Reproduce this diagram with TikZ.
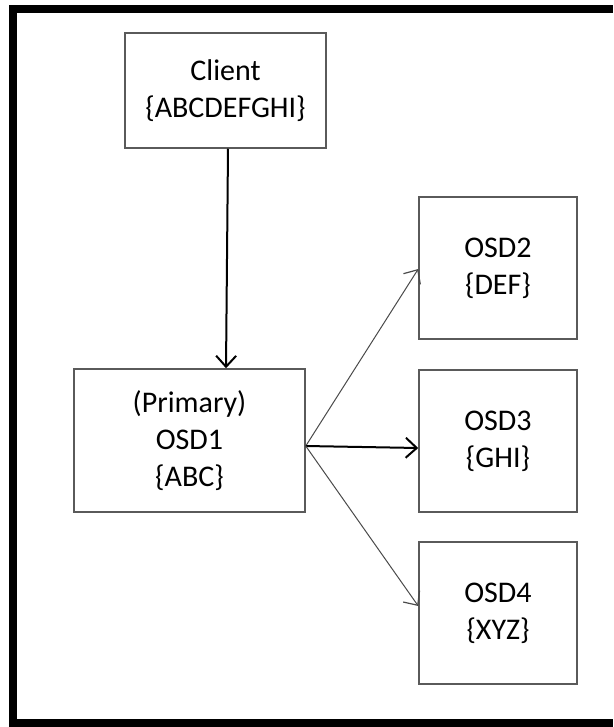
\documentclass[tikz,border=0pt]{standalone}
\usepackage{fontspec}
\setmainfont{Carlito}
\usetikzlibrary{arrows.meta}
\begin{document}
\begin{tikzpicture}[x=1pt,y=-1pt,
  box/.style={draw=boxgray, line width=1.5pt, fill=white, align=center,
    inner sep=0pt, font=\fontsize{30}{36.7}\selectfont},
  mainflow/.style={line width=2pt, draw=black,
    -{Straight Barb[length=11pt,width=20pt,line width=2pt]}},
  sideflow/.style={line width=1pt, draw=linegray,
    -{Straight Barb[length=11pt,width=20pt,line width=1.2pt]}}]
\definecolor{boxgray}{HTML}{5A5A5A}
\definecolor{linegray}{HTML}{4A4A4A}
\useasboundingbox (0,0) rectangle (613,727);
% heavy frame on the left, top and bottom
\fill[black] (9,5) rectangle (17,727);
\fill[black] (9,5) rectangle (613,13);
\fill[black] (9,719) rectangle (613,727);
% nodes
\node[box, minimum width=201pt, minimum height=115pt] (client) at (225.5,90.5) {Client\\\{ABCDEFGHI\}};
\node[box, minimum width=231pt, minimum height=143pt] (osd1) at (189.5,440.5) {(Primary)\\OSD1\\\{ABC\}};
\node[box, minimum width=158pt, minimum height=142pt] (osd2) at (498,268) {OSD2\\\{DEF\}};
\node[box, minimum width=158pt, minimum height=142pt] (osd3) at (498,441) {OSD3\\\{GHI\}};
\node[box, minimum width=158pt, minimum height=142pt] (osd4) at (498,613) {OSD4\\\{XYZ\}};
% connectors
\coordinate (cout) at ([xshift=2.5pt]client.south);
\coordinate (pin) at ([xshift=36.5pt]osd1.north);
\coordinate (pout) at ([yshift=-5.5pt]osd1.east);
\draw[mainflow] (cout) -- (pin);
\draw[sideflow] (pout) -- ([yshift=-1pt]osd2.west);
\draw[mainflow] (pout) -- ([yshift=-7pt]osd3.west);
\draw[sideflow] (pout) -- ([yshift=7pt]osd4.west);
\end{tikzpicture}
\end{document}
